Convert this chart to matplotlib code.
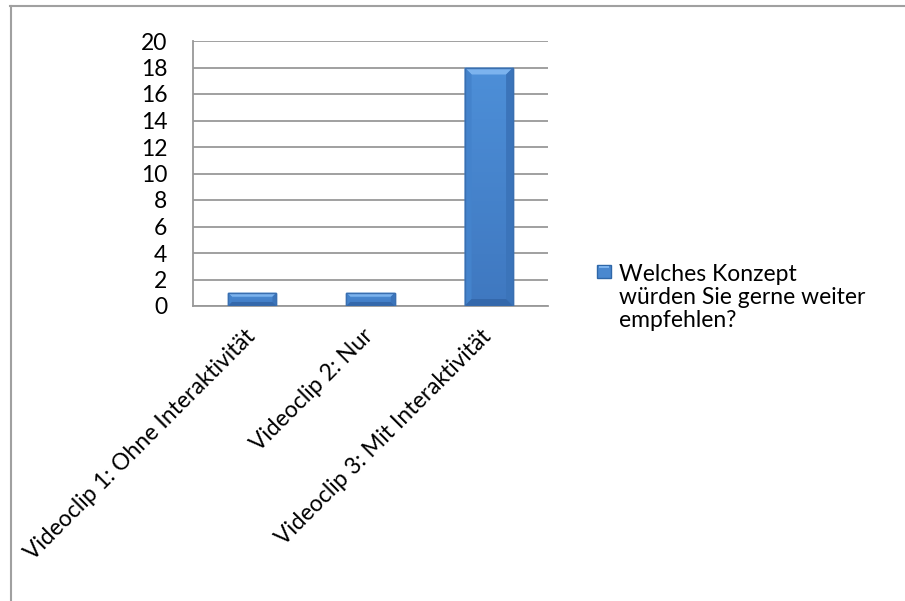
import numpy as np
import matplotlib
matplotlib.use("Agg")
import matplotlib.pyplot as plt
import matplotlib.transforms as mtransforms
from matplotlib.lines import Line2D
from matplotlib.patches import Rectangle, Polygon
from matplotlib.colors import LinearSegmentedColormap

# Umfragedaten
kategorien = ["Videoclip 1: Ohne Interaktivität",
              "Videoclip 2: Nur",
              "Videoclip 3: Mit Interaktivität"]
anzahl = [1, 1, 18]
serie = "Welches Konzept\nwürden Sie gerne weiter\nempfehlen?"
y_ticks = list(range(0, 21, 2))

plt.rcParams['font.family'] = ['Lato', 'DejaVu Sans']
FS = 16.5

W, H = 905, 601
fig = plt.figure(figsize=(W / 100, H / 100), dpi=100)
fig.patch.set_facecolor('white')

# Plotbereich in Pixeln
x0, x1, y0, y1 = 193, 548, 306, 41
ax = fig.add_axes([x0 / W, 1 - y0 / H, (x1 - x0) / W, (y0 - y1) / H])

ax.set_xlim(-0.5, len(kategorien) - 0.5)
ax.set_ylim(0, 20)

x = np.arange(len(kategorien))
bars = ax.bar(x, anzahl, width=0.41, color='#4a88cf', edgecolor='#3a6fb0',
              linewidth=1.0, zorder=3)

# Balken mit Verlauf und abgeschrägten Kanten (Office-Stil)
px_x = len(kategorien) / (x1 - x0)      # Dateneinheiten pro Pixel (x)
px_y = 20 / (y0 - y1)                   # Dateneinheiten pro Pixel (y)
face_cmap = LinearSegmentedColormap.from_list('face', ['#3f78c0', '#4d8fd8'])
for b in bars:
    bl, bw, bh = b.get_x(), b.get_width(), b.get_height()
    br = bl + bw
    bev_px = min(7, bh / px_y * 0.3)
    bx, by = bev_px * px_x, bev_px * px_y
    grad = np.linspace(0, 1, 64).reshape(-1, 1)
    im = ax.imshow(grad, extent=[bl, br, 0, bh], origin='lower', cmap=face_cmap,
                   aspect='auto', zorder=3.5)
    im.set_clip_path(b)
    ax.add_patch(Polygon([(bl, bh), (br, bh), (br - bx, bh - by), (bl + bx, bh - by)],
                         closed=True, facecolor='#7cb3ee', edgecolor='none', zorder=4))
    ax.add_patch(Polygon([(bl, bh), (bl + bx, bh - by), (bl + bx, by), (bl, 0)],
                         closed=True, facecolor='#4483cc', edgecolor='none', zorder=4))
    ax.add_patch(Polygon([(br, bh), (br - bx, bh - by), (br - bx, by), (br, 0)],
                         closed=True, facecolor='#3b74ba', edgecolor='none', zorder=4))
    ax.add_patch(Polygon([(bl, 0), (br, 0), (br - bx, by), (bl + bx, by)],
                         closed=True, facecolor='#3468ab', edgecolor='none', zorder=4))
    ax.add_patch(Rectangle((bl, 0), bw, bh, facecolor='none', edgecolor='#3a6fb0',
                           linewidth=1.0, zorder=4.5))

ax.set_xlim(-0.5, len(kategorien) - 0.5)
ax.set_ylim(0, 20)
ax.set_yticks(y_ticks)
ax.yaxis.grid(True, color='#999999', linewidth=1.3, zorder=0)
ax.set_axisbelow(True)

for side in ('top', 'right'):
    ax.spines[side].set_visible(False)
ax.spines['left'].set_color('#999999')
ax.spines['bottom'].set_color('#999999')
ax.spines['left'].set_linewidth(1.3)
ax.spines['bottom'].set_linewidth(1.3)

ax.tick_params(axis='y', length=0, pad=18.5, labelsize=FS)
ax.tick_params(axis='x', length=0, pad=14, labelsize=FS)
ax.set_xticks(x)
ax.set_xticklabels(kategorien, rotation=45, ha='right', va='top',
                   rotation_mode='anchor')
offset = mtransforms.ScaledTranslation(-8 / 100, 0, fig.dpi_scale_trans)
for lbl in ax.get_xticklabels():
    lbl.set_transform(lbl.get_transform() + offset)

# Legende: Farbquadrat und dreizeiliger Text
fig.add_artist(Rectangle((597 / W, 1 - 278 / H), 14 / W, 13 / H,
                         transform=fig.transFigure, facecolor='#4a88cf',
                         edgecolor='#2f67a8', linewidth=1))
fig.add_artist(Rectangle((599 / W, 1 - 268 / H), 10 / W, 2 / H,
                         transform=fig.transFigure, facecolor='#7cb3ee',
                         edgecolor='none'))
fig.text(619 / W, 1 - 264 / H, serie, fontsize=FS, va='top', ha='left',
         linespacing=1.12)

# Rahmen des Diagrammbereichs
fig.add_artist(Line2D([10 / W, 1], [1 - 5.5 / H, 1 - 5.5 / H],
                      transform=fig.transFigure, color='#a0a0a0', linewidth=1.5))
fig.add_artist(Line2D([10.5 / W, 10.5 / W], [0, 1 - 5.5 / H],
                      transform=fig.transFigure, color='#a0a0a0', linewidth=1.5))

fig.savefig('out.png', dpi=100)
